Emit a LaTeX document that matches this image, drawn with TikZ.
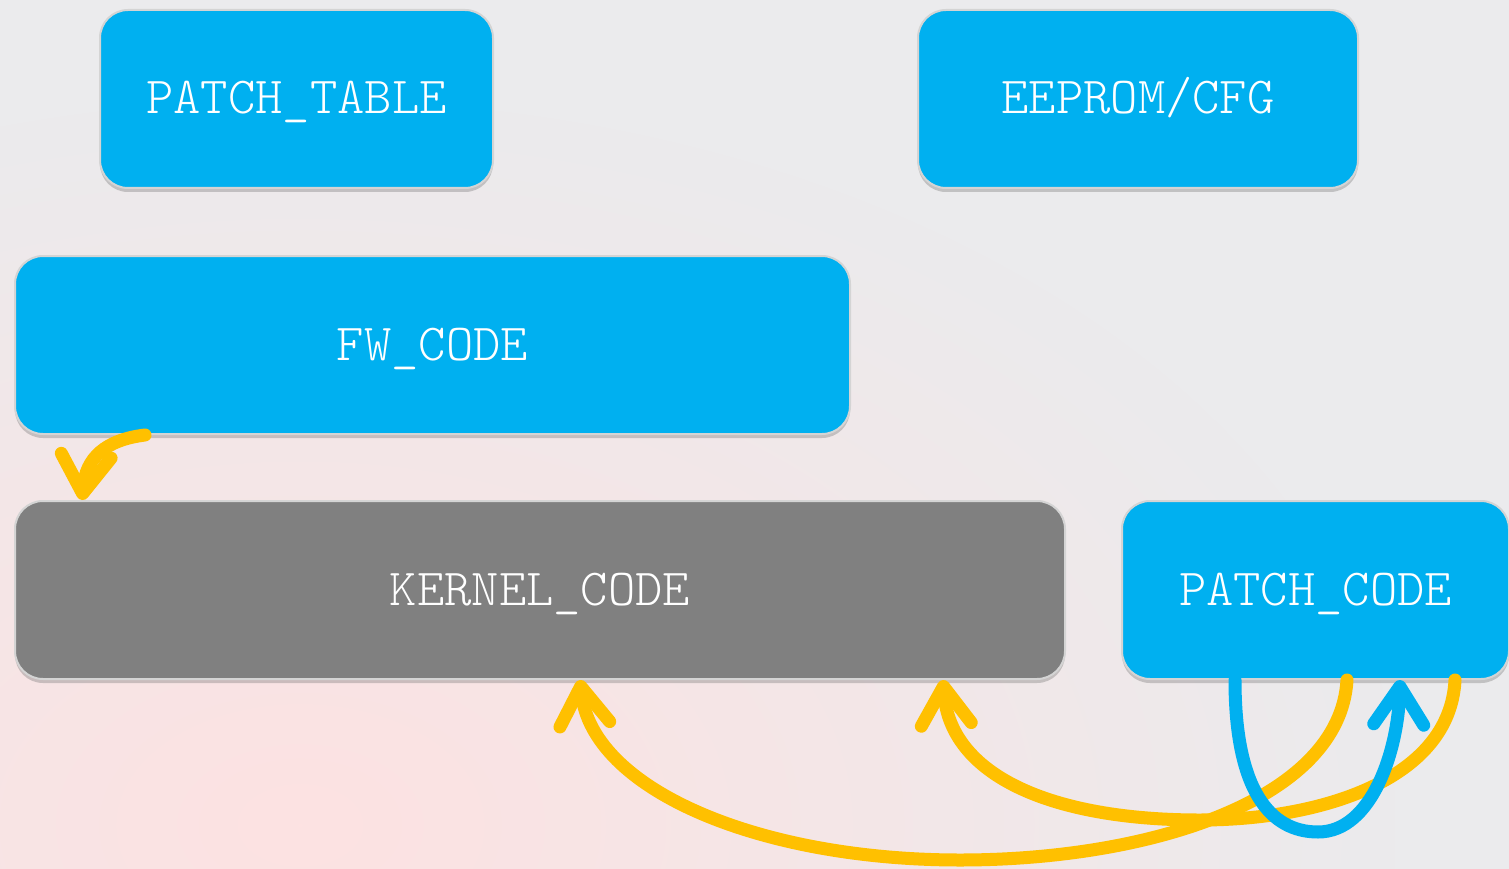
\documentclass[tikz,border=0pt]{standalone}
\usetikzlibrary{arrows.meta,shadows,fadings}
\definecolor{boxblue}{HTML}{00B0F0}
\definecolor{kgray}{HTML}{808080}
\definecolor{amber}{HTML}{FFC000}
\definecolor{edge}{HTML}{D4D4D4}
\definecolor{bggray}{HTML}{EBEBED}
\definecolor{bgpink}{HTML}{FDE2E2}
\tikzfading[name=glow, inner color=transparent!0, outer color=transparent!100]

\begin{document}
\begin{tikzpicture}[x=1pt,y=-1pt,
  block/.style={rounded corners=28pt, draw=edge, line width=2pt, fill=boxblue, text=white,
    font=\ttfamily\fontseries{l}\fontsize{52pt}{55pt}\selectfont,
    minimum height=178pt, inner sep=0pt, text height=30pt, text depth=0pt,
    drop shadow={shadow xshift=0pt, shadow yshift=-4pt, opacity=0.35, fill=black!55}},
  flow/.style={line width=13pt, draw=amber, line cap=round,
    -{Straight Barb[length=38pt,width=50pt,round]}},
  backflow/.style={flow, draw=boxblue}
]
\useasboundingbox (0,0) rectangle (1509,869);
% page and hazy backdrop
\fill[bggray] (0,0) rectangle (1509,869);
\begin{scope}
  \clip (0,0) rectangle (1509,869);
  \fill[bgpink, path fading=glow] (-800,100) rectangle (1400,1550);
\end{scope}

% memory regions
\node[block, minimum width=393pt] (ptable) at (296.5,99) {PATCH\_TABLE};
\node[block, minimum width=440pt] (eeprom) at (1138,99) {EEPROM/CFG};
\node[block, minimum width=835pt] (fw) at (432.5,345) {FW\_CODE};
\node[block, minimum width=1050pt, fill=kgray] (kernel) at (540,590) {KERNEL\_CODE};
\node[block, minimum width=387pt] (pcode) at (1315.5,590) {PATCH\_CODE};

% jumps between regions
\draw[flow] ([xshift=-287.5pt]fw.south) .. controls (105,440) and (86,458) .. ([xshift=-458pt]kernel.north);
\draw[flow] ([xshift=31.5pt]pcode.south) .. controls (1340,800) and (1150,860) .. (960,860)
  .. controls (760,860) and (592,790) .. ([xshift=40pt]kernel.south);
\draw[flow] ([xshift=139.5pt]pcode.south) .. controls (1450,780) and (1320,820) .. (1200,820)
  .. controls (1050,820) and (950,775) .. ([xshift=403pt]kernel.south);
\draw[backflow] ([xshift=-80.5pt]pcode.south) .. controls (1235,790) and (1270,832) .. (1318,832)
  .. controls (1372,832) and (1398,750) .. ([xshift=84.5pt]pcode.south);
\end{tikzpicture}
\end{document}
